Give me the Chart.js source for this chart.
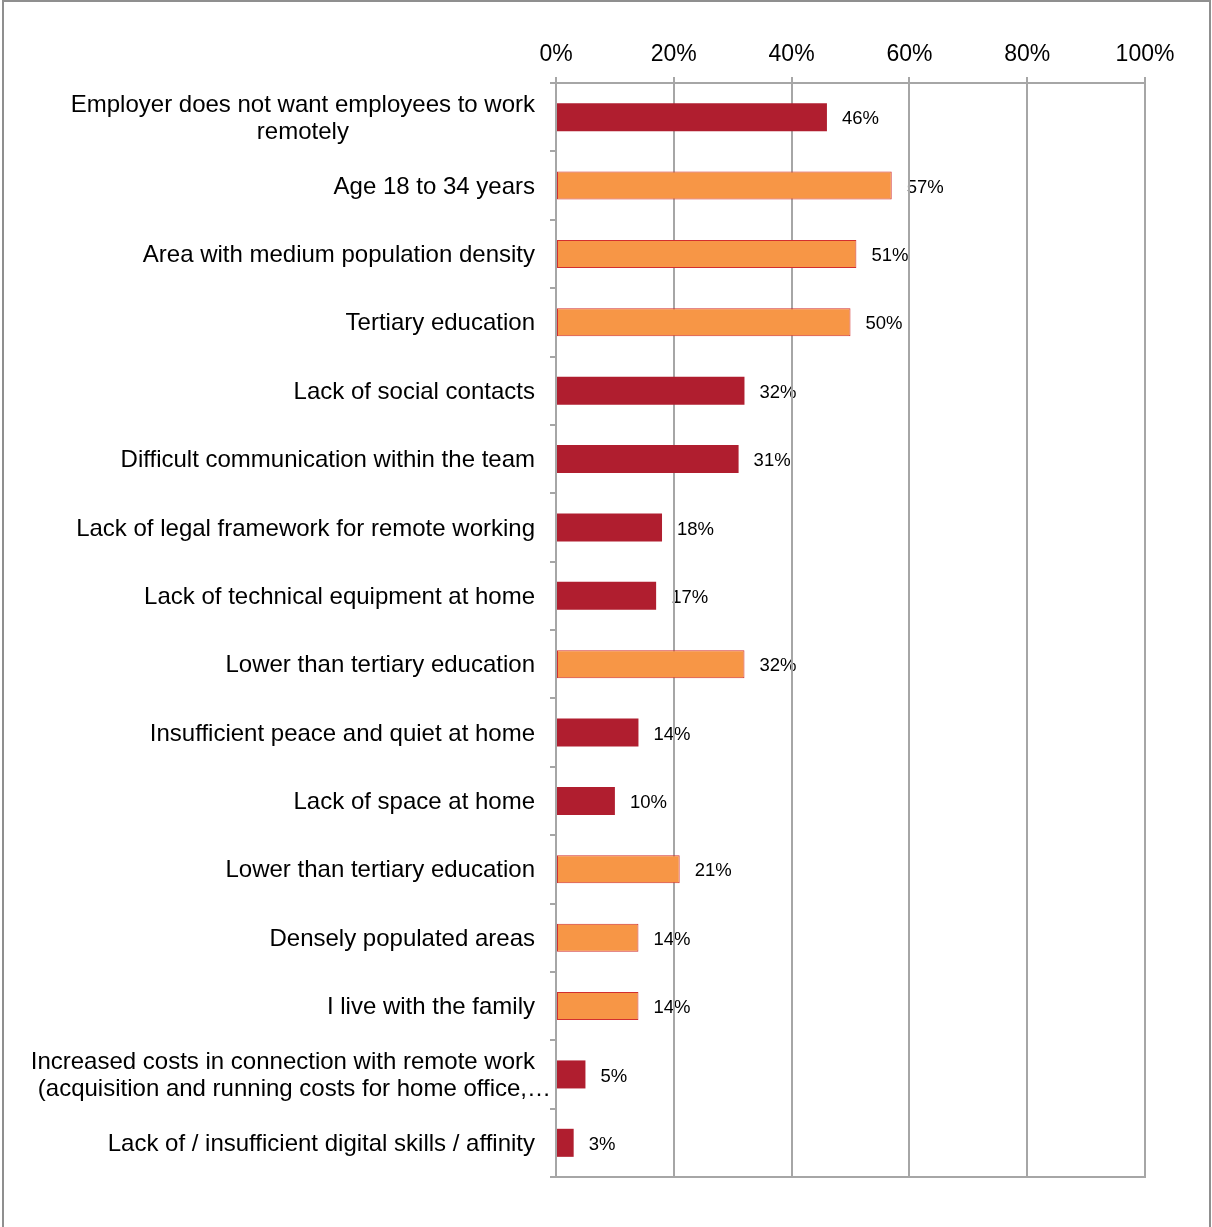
<!DOCTYPE html>
<html>
<head>
<meta charset="utf-8">
<script src="https://cdn.jsdelivr.net/npm/chart.js@4"></script>
<style>
  html, body { margin: 0; padding: 0; background: #fff; overflow: hidden; }
  #wrap { position: relative; width: 1212px; height: 1227px; }
  #frame { position: absolute; left: 2px; top: 0; width: 1209px; height: 1300px; border: 2px solid #8f8f8f; box-sizing: border-box; pointer-events: none; }
  canvas { position: absolute; left: 0; top: 0; }
</style>
</head>
<body>
<div id="wrap">
  <canvas id="chart" width="1212" height="1227"></canvas>
  <div id="frame"></div>
</div>
<script>
// --- data ---
const categories = [
    ['Employer does not want employees to work', 'remotely'],
    'Age 18 to 34 years',
    'Area with medium population density',
    'Tertiary education',
    'Lack of social contacts',
    'Difficult communication within the team',
    'Lack of legal framework for remote working',
    'Lack of technical equipment at home',
    'Lower than tertiary education',
    'Insufficient peace and quiet at home',
    'Lack of space at home',
    'Lower than tertiary education',
    'Densely populated areas',
    'I live with the family',
    ['Increased costs in connection with remote work', '(acquisition and running costs for home office,\u2026'],
    'Lack of / insufficient digital skills / affinity'
];
const values = [46, 57, 51, 50, 32, 31, 18, 17, 32, 14, 10, 21, 14, 14, 5, 3];
// 'r' = reason (dark red), 'g' = group (orange)
const kinds = ['r', 'g', 'g', 'g', 'r', 'r', 'r', 'r', 'g', 'r', 'r', 'g', 'g', 'g', 'r', 'r'];
const xTicks = [0, 20, 40, 60, 80, 100];

const RED = '#B01E2F';
const ORANGE = '#F79646';
const GRID = '#a6a6a6';
const FONT = '"Liberation Sans", Arial, sans-serif';

// category labels: block right-aligned near the axis, lines centred in the block
// (a label cut off with an ellipsis is right-aligned and runs up to the axis)
const categoryLabels = {
    id: 'categoryLabels',
    afterDraw(chart) {
        const ctx = chart.ctx;
        const y = chart.scales.y;
        const right = y.right - 21;
        const lh = 27.5;
        ctx.save();
        ctx.font = '24px ' + FONT;
        ctx.fillStyle = '#000';
        ctx.textBaseline = 'middle';
        categories.forEach((lab, i) => {
            const lines = Array.isArray(lab) ? lab : [lab];
            const cut = lines.some(l => l.endsWith('\u2026'));
            const w = Math.max(...lines.map(l => ctx.measureText(l).width));
            const cy = y.getPixelForValue(i) + 1.5;
            const y0 = cy - (lines.length - 1) * lh / 2;
            lines.forEach((l, k) => {
                if (cut) {
                    ctx.textAlign = 'right';
                    ctx.fillText(l, l.endsWith('\u2026') ? right + 16 : right, y0 + k * lh);
                } else {
                    ctx.textAlign = 'center';
                    ctx.fillText(l, right - w / 2, y0 + k * lh);
                }
            });
        });
        ctx.restore();
    }
};

// value labels, drawn before the grid so the grid crosses them as in the original
const valueLabels = {
    id: 'valueLabels',
    beforeDraw(chart) {
        const ctx = chart.ctx;
        const meta = chart.getDatasetMeta(0);
        ctx.save();
        ctx.font = '18.5px ' + FONT;
        ctx.fillStyle = '#000';
        ctx.textAlign = 'left';
        ctx.textBaseline = 'middle';
        meta.data.forEach((bar, i) => {
            ctx.fillText(values[i] + '%', bar.x + 15, bar.y + 2);
        });
        ctx.restore();
    }
};

new Chart(document.getElementById('chart').getContext('2d'), {
    type: 'bar',
    data: {
        labels: categories.map((c, i) => i),
        datasets: [{
            data: values,
            backgroundColor: kinds.map(k => k === 'g' ? ORANGE : RED),
            borderColor: kinds.map(k => k === 'g' ? '#d22f2f' : RED),
            borderWidth: kinds.map(k => k === 'g' ? 1 : 0),
            borderSkipped: false,
            categoryPercentage: 1,
            barPercentage: 0.41
        }]
    },
    plugins: [valueLabels, categoryLabels],
    options: {
        indexAxis: 'y',
        responsive: false,
        animation: false,
        devicePixelRatio: 1,
        layout: { padding: { left: 0, right: 67, top: 0, bottom: 50 } },
        plugins: {
            legend: { display: false },
            tooltip: { enabled: false }
        },
        scales: {
            x: {
                position: 'top',
                min: 0,
                max: 100,
                afterBuildTicks: (scale) => { scale.ticks = xTicks.map(v => ({ value: v })); },
                afterFit: (scale) => { scale.height = 83; },
                ticks: {
                    color: '#000',
                    font: { size: 23, family: FONT },
                    padding: 9,
                    callback: (v) => v + '%'
                },
                grid: { color: GRID, lineWidth: 2, tickLength: 6 },
                border: { color: GRID, width: 2 }
            },
            x2: {
                position: 'bottom',
                min: 0,
                max: 100,
                afterFit: (scale) => { scale.height = 0; },
                ticks: { display: false },
                grid: { display: false },
                border: { color: GRID, width: 2 }
            },
            y: {
                position: 'left',
                afterFit: (scale) => { scale.width = 556; },
                ticks: { display: false },
                grid: { drawOnChartArea: false, color: GRID, lineWidth: 2, tickLength: 6, offset: true },
                border: { color: GRID, width: 2 }
            }
        }
    }
});
</script>
</body>
</html>
